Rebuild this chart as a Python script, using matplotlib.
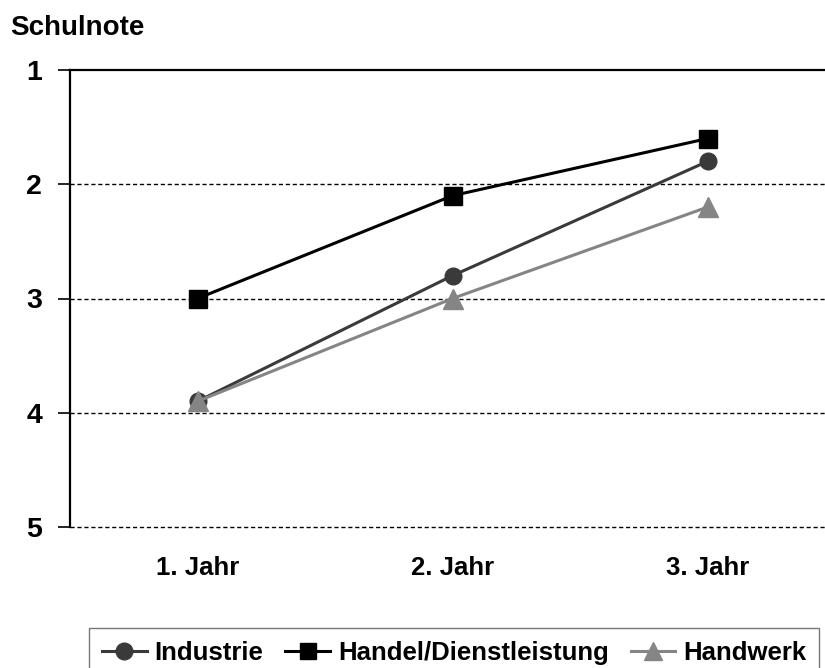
import matplotlib
matplotlib.use("Agg")
import matplotlib.pyplot as plt
from matplotlib.lines import Line2D

years = ["1. Jahr", "2. Jahr", "3. Jahr"]
industrie = [3.9, 2.8, 1.8]
handel = [3.0, 2.1, 1.6]
handwerk = [3.9, 3.0, 2.2]
y_ticks = [1, 2, 3, 4, 5]

plt.rcParams["font.family"] = ["Liberation Sans", "DejaVu Sans"]

W, H = 825, 668
fig = plt.figure(figsize=(W / 100, H / 100), dpi=100)
# axes: left 70px, top 70px, bottom 527px, right runs past the edge
left, right, top, bottom = 70, 835, 70, 527
ax = fig.add_axes([left / W, 1 - bottom / H, (right - left) / W, (bottom - top) / H])

c_ind, c_han, c_hw = "#3a3a3a", "#000000", "#858585"
x = list(range(len(years)))
ax.plot(x, industrie, color=c_ind, lw=2.2, marker="o", ms=12, zorder=4)
ax.plot(x, handel, color=c_han, lw=2.2, marker="s", ms=13.5, zorder=3)
ax.plot(x, handwerk, color=c_hw, lw=2.2, marker="^", ms=14, zorder=5)

ax.set_xlim(-0.5, 2.5)
ax.set_ylim(5, 1)
ax.set_yticks(y_ticks)
ax.set_yticklabels([str(v) for v in y_ticks], fontsize=20.5, fontweight="bold")
ax.set_xticks(x)
ax.set_xticklabels(years, fontsize=18.5, fontweight="bold")
ax.tick_params(axis="x", length=0, pad=21)
ax.tick_params(axis="y", length=8.6, width=1.2, pad=11.5, direction="out")

for v in [2, 3, 4, 5]:
    ax.axhline(v, color="black", lw=1.0, ls=(0, (3, 2)), zorder=1, clip_on=False)
ax.axhline(1, color="black", lw=1.6, zorder=1, clip_on=False)

for s in ["top", "right", "bottom"]:
    ax.spines[s].set_visible(False)
ax.spines["left"].set_linewidth(1.6)

fig.text(10 / W, 1 - 28 / H, "Schulnote", fontsize=20, fontweight="bold", va="center", ha="left")

handles = [
    Line2D([], [], color=c_ind, lw=2.2, marker="o", ms=12),
    Line2D([], [], color=c_han, lw=2.2, marker="s", ms=12),
    Line2D([], [], color=c_hw, lw=2.2, marker="^", ms=13),
]
leg = fig.legend(handles, ["Industrie", "Handel/Dienstleistung", "Handwerk"],
                 loc="upper left", bbox_to_anchor=(89 / W, 1 - 628 / H),
                 borderaxespad=0, ncol=3, frameon=True, fancybox=False,
                 handlelength=1.75, handletextpad=0.3, columnspacing=0.85,
                 borderpad=0.5,
                 prop={"size": 18.5, "weight": "bold"})
leg.get_frame().set_edgecolor("#555555")
leg.get_frame().set_linewidth(1.0)

fig.savefig("out.png", dpi=100)
